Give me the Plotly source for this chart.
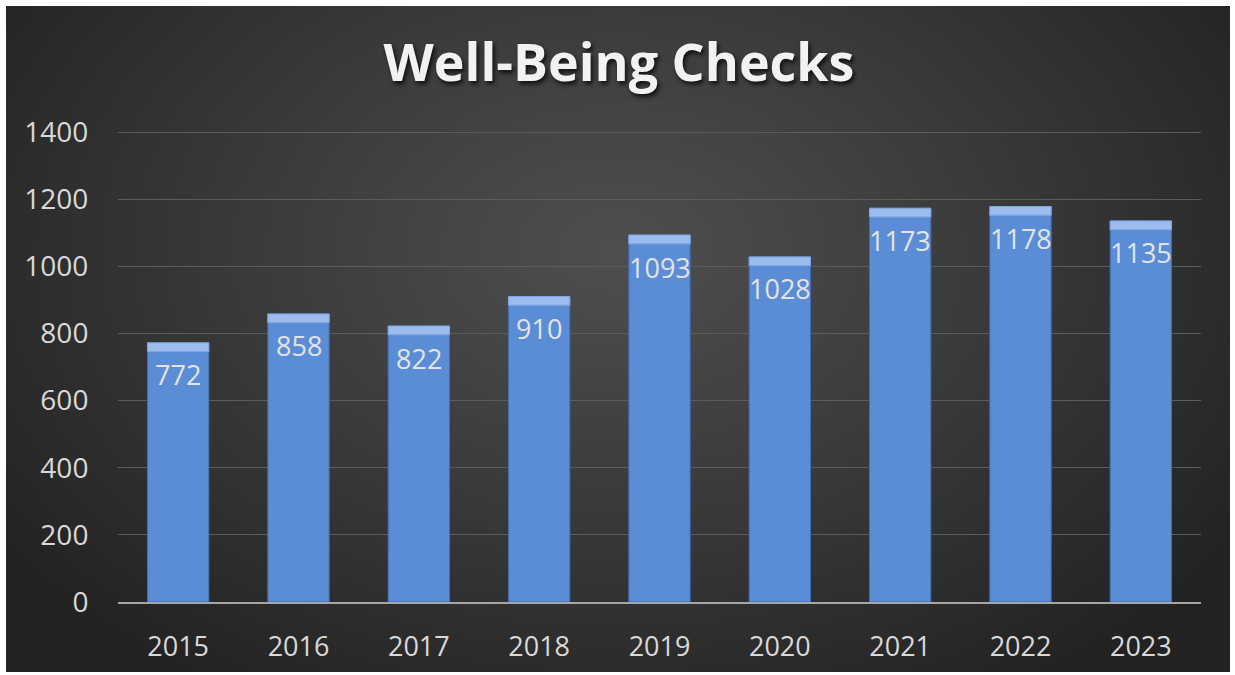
import base64
import struct
import zlib

import numpy as np
import plotly.graph_objects as go

# ---------------- data ----------------
years = ["2015", "2016", "2017", "2018", "2019", "2020", "2021", "2022", "2023"]
checks = [772, 858, 822, 910, 1093, 1028, 1173, 1178, 1135]
y_tick_values = [0, 200, 400, 600, 800, 1000, 1200, 1400]
title_text = "Well-Being Checks"

# ---------------- geometry ----------------
W, H = 1235, 675
ML, MR, MT, MB = 118, 34, 128, 73
PW = W - ML - MR
PH = H - MT - MB
Y_TOP_PX = 132  # pixel row where the top tick (1400) sits
Y_MAX = y_tick_values[-1] * PH / (H - MB - Y_TOP_PX)
BG_X0, BG_Y0, BG_X1, BG_Y1 = 6, 6, 1230, 672  # dark panel inside white frame
BEVEL = 26  # data units for the light top bevel of each bar


def png_data_uri(arr):
    h, w, _ = arr.shape
    raw = b"".join(b"\x00" + arr[i].tobytes() for i in range(h))

    def chunk(tag, data):
        c = struct.pack(">I", len(data)) + tag + data
        return c + struct.pack(">I", zlib.crc32(tag + data) & 0xFFFFFFFF)

    png = (b"\x89PNG\r\n\x1a\n"
           + chunk(b"IHDR", struct.pack(">IIBBBBB", w, h, 8, 2, 0, 0, 0))
           + chunk(b"IDAT", zlib.compress(raw, 9))
           + chunk(b"IEND", b""))
    return "data:image/png;base64," + base64.b64encode(png).decode()


# radial dark gradient background
bw, bh = (BG_X1 - BG_X0) // 2, (BG_Y1 - BG_Y0) // 2
yy, xx = np.mgrid[0:bh, 0:bw].astype(float)
cx, cy = (615 - BG_X0) / 2, (250 - BG_Y0) / 2
rx, ry = 760 / 2, 520 / 2
d = np.sqrt(((xx - cx) / rx) ** 2 + ((yy - cy) / ry) ** 2)
d = np.clip(d, 0, 1) ** 1.1
inner, outer = 0x4E, 0x22
g = (inner + (outer - inner) * d).round().astype(np.uint8)
img = np.stack([g, g, g], axis=-1)
bg_uri = png_data_uri(img)

fig = go.Figure()

fig.add_trace(go.Bar(
    x=years, y=checks,
    marker=dict(color="#5a8dd6", line=dict(color="#3e6db3", width=1)),
    hoverinfo="x+y",
))
fig.add_trace(go.Bar(
    x=years, y=[BEVEL] * len(checks), base=[c - BEVEL for c in checks],
    marker=dict(color="#9bbcec", line=dict(color="#7ea6e2", width=1)),
    hoverinfo="skip",
))

for i, v in enumerate(checks):
    fig.add_annotation(
        x=i, y=v, xref="x", yref="y", yshift=-32, text=str(v), showarrow=False,
        xanchor="center", yanchor="middle",
        font=dict(family="Open Sans", size=27, color="#e3e3e3"),
    )

fig.add_layout_image(dict(
    source=bg_uri, xref="paper", yref="paper",
    x=(BG_X0 - ML) / PW, y=(H - MB - BG_Y0) / PH,
    sizex=(BG_X1 - BG_X0) / PW, sizey=(BG_Y1 - BG_Y0) / PH,
    xanchor="left", yanchor="top", sizing="stretch", layer="below",
))

fig.update_layout(
    width=W, height=H,
    margin=dict(l=ML, r=MR, t=MT, b=MB),
    paper_bgcolor="white",
    plot_bgcolor="rgba(0,0,0,0)",
    barmode="overlay",
    bargap=0.49,
    showlegend=False,
    title=dict(
        text="<b>" + title_text + "</b>",
        x=619 / W, xref="container", xanchor="center",
        y=1 - 63 / H, yref="container", yanchor="middle",
        font=dict(family="Open Sans", size=52, color="#f2f2f2",
                  shadow="2px 3px 4px rgba(0,0,0,0.75)"),
    ),
    font=dict(family="Open Sans", color="#d9d9d9"),
)

fig.update_xaxes(
    type="category", range=[-0.5, len(years) - 0.5], autorange=False,
    showline=True, linecolor="#a6a6a6", linewidth=2,
    ticks="outside", ticklen=20, tickcolor="rgba(0,0,0,0)",
    tickfont=dict(family="Open Sans", size=27, color="#d9d9d9"),
    showgrid=False, zeroline=False,
)
fig.update_yaxes(
    range=[0, Y_MAX], autorange=False, tickvals=y_tick_values,
    showgrid=True, gridcolor="#5c5c5c", gridwidth=1,
    showline=False, zeroline=False,
    ticks="outside", ticklen=23, tickcolor="rgba(0,0,0,0)",
    tickfont=dict(family="Open Sans", size=28, color="#d9d9d9"),
)

fig.write_html(
    "out.html",
    config={"displayModeBar": False},
    post_script="document.body.style.margin='0';document.body.style.overflow='hidden';",
)
